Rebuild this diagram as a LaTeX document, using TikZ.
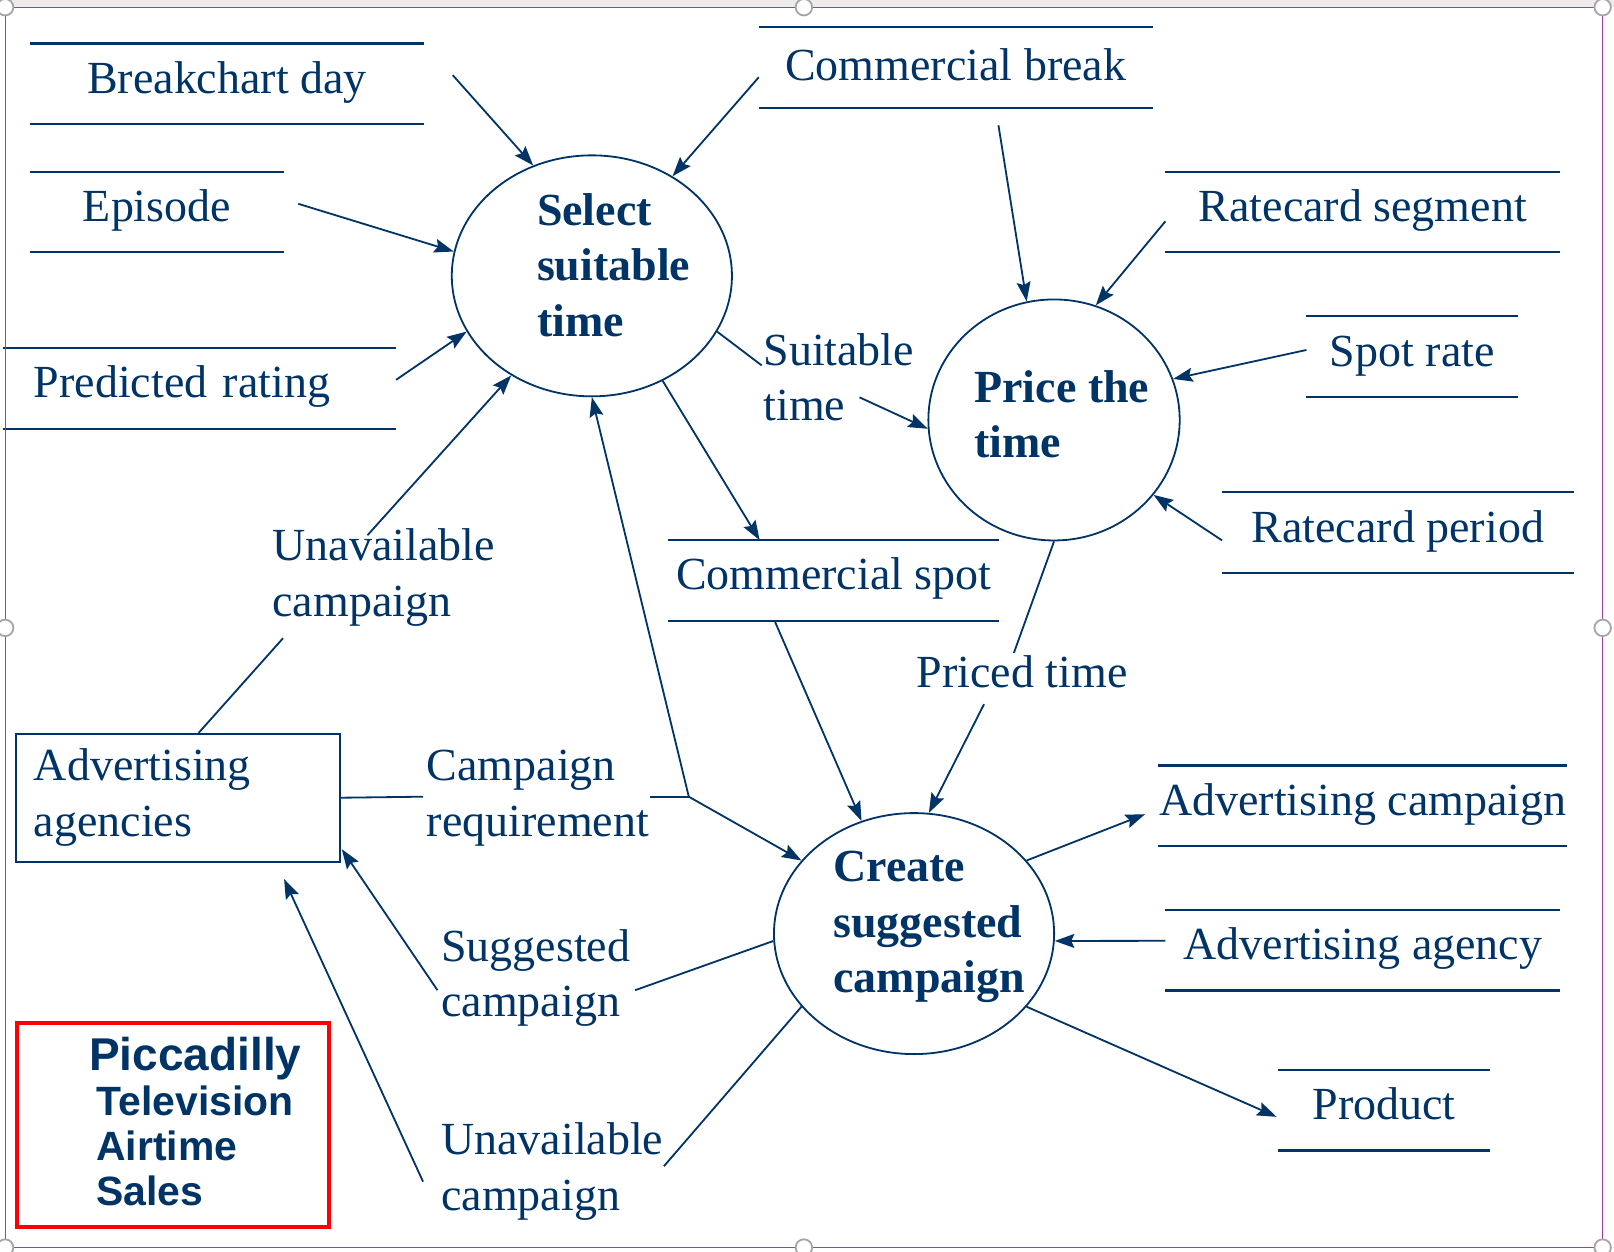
\documentclass[tikz,border=0pt]{standalone}
\usepackage{fontspec}
\setmainfont{Liberation Serif}
\setsansfont{Liberation Sans}
\usetikzlibrary{arrows.meta,calc,positioning,shapes.geometric}
\definecolor{navy}{RGB}{0,51,102}
\definecolor{selframe}{RGB}{160,60,170}
\newcommand{\dfdfont}{\fontsize{12.7}{15.4}\selectfont}
\tikzset{store/.style={inner sep=0pt,minimum height=0.77cm,text height=0.7em,text depth=0.18em},
  storeline/.style={navy,line width=0.6pt},
  proc/.style={draw=navy,ellipse,line width=0.5pt,minimum width=2.72cm,minimum height=2.34cm,inner sep=0pt},
  ptext/.style={font=\dfdfont\bfseries,align=left,inner sep=0pt,anchor=north west},
  lbl/.style={align=left,inner sep=0pt,anchor=north west},
  flow/.style={navy,line width=0.5pt},
  arr/.style={flow,-{Stealth[length=1.9mm,width=1.35mm,inset=0.3mm]}},
  handle/.style={draw=gray!70,fill=white,line width=0.5pt}}

\begin{document}
\begin{tikzpicture}[x=0.01cm,y=-0.01cm,font=\dfdfont,text=navy]
\useasboundingbox (0,0) rectangle (1568,1216);
\fill[gray!15] (0,0) rectangle (1568,7);
\fill[white] (5,7) rectangle (1557,1212);
% processes
\node[proc] (select) at (575,268) {};
\node[proc,minimum width=2.44cm] (price) at (1024,408) {};
\node[proc] (create) at (888,907) {};
\node[ptext] (select-t) at (521,187) {Select\\suitable\\time};
\node[ptext] (price-t) at (946,359) {Price the\\time};
\node[ptext] (create-t) at (809,826) {Create\\suggested\\campaign};
% data stores
\node[store,minimum width=3.81cm] (bday) at (220.5,81.5) {Breakchart day};
\node[store,minimum width=2.45cm] (episode) at (152.5,206) {Episode};
\node[store,minimum width=3.8cm,text width=3.22cm,align=left] (rating) at (194,377.5) {Predicted rating};
\node[store,minimum width=3.81cm,text depth=0em] (cbreak) at (928.5,65.5) {Commercial break};
\node[store,minimum width=3.82cm] (segment) at (1324,206) {Ratecard segment};
\node[store,minimum width=2.04cm] (spot) at (1372,346.5) {Spot rate};
\node[store,minimum width=3.4cm] (period) at (1358,517.5) {Ratecard period};
\node[store,minimum width=3.2cm] (cspot) at (810,564) {Commercial spot};
\node[store,minimum width=3.82cm] (adcampaign) at (1324,783) {Advertising campaign};
\node[store,minimum width=3.82cm] (adagency) at (1324,923) {Advertising agency};
\node[store,minimum width=2.05cm] (product) at (1344.5,1078.5) {Product};
\foreach \s in {bday,episode,rating,cbreak,segment,spot,period,cspot,adcampaign,adagency,product}
  \draw[storeline] (\s.north west) -- (\s.north east) (\s.south west) -- (\s.south east);
% external entity and title
\node[draw=navy,line width=0.55pt,minimum width=3.14cm,minimum height=1.24cm,text width=2.8cm,align=left,inner sep=0pt] (agencies) at (173,775) {Advertising\\agencies};
\node[draw=red,line width=1.15pt,minimum width=3.03cm,minimum height=1.98cm] (pitas) at (168,1093) {};
\node[font=\sffamily\bfseries\fontsize{11.3}{12.4}\selectfont,align=left,inner sep=0pt,anchor=north west] (pitas-t) at (93,1007)
  {\hspace*{-0.07cm}{\fontsize{12.7}{12.4}\selectfont Piccadilly}\\Television\\Airtime\\Sales};
% flow labels
\node[lbl] (suitable) at (741,323) {Suitable\\time};
\node[lbl] (unav-up) at (264,513) {Unavailable\\campaign};
\node[lbl] (require) at (414,728) {Campaign\\requirement};
\node[inner sep=0pt,anchor=base] (priced) at (993,668) {Priced time};
\node[lbl] (suggested) at (428,902) {Suggested\\campaign};
\node[lbl] (unav-low) at (428,1090) {Unavailable\\campaign};
% into select suitable time
\draw[arr] ([shift={(28,-8.5)}]bday.east) -- (select.118);
\draw[arr] ([shift={(0,9.5)}]cbreak.west) -- (select.51);
\draw[arr] ([shift={(14,-8)}]episode.east) -- (select.170);
\draw[arr] ([shift={(0,-8.5)}]rating.east) -- (select.204);
\draw[flow] ([shift={(20,0)}]agencies.north) -- ([shift={(11,107)}]unav-up.north west);
\draw[arr] ([shift={(93,7)}]unav-up.north west) -- (select.231);
% out of select suitable time
\draw[flow] (select.336) -- ([shift={(-1,32)}]suitable.north west);
\draw[arr] ([shift={(94,63)}]suitable.north west) -- (price.184);
\draw[arr] (select.304) -- ([shift={(-72,0)}]cspot.north);
% price the time
\draw[arr] ([shift={(41.5,17)}]cbreak.south) -- (price.103);
\draw[arr] ([shift={(0,9)}]segment.west) -- (price.70);
\draw[arr] ([shift={(0,-6.5)}]spot.west) -- (price.19.5);
\draw[arr] ([shift={(0,7.5)}]period.west) -- (price.323);
\draw[flow] (price.270) -- ([shift={(-8,-2)}]priced.north);
\draw[arr] ([shift={(-37,15)}]priced.south) -- (create.83);
% campaign requirement
\draw[flow] (agencies.east) -- ([shift={(-3,46)}]require.north west);
\coordinate (fork) at ([shift={(38,46)}]require.north east);
\draw[flow] ([shift={(0,46)}]require.north east) -- (fork);
\draw[arr] (fork) -- (select.270.5);
\draw[arr] (fork) -- (create.147);
% create suggested campaign
\draw[arr] ([shift={(-57,1)}]cspot.south) -- (create.115);
\draw[arr] (create.33) -- ([shift={(-13,8)}]adcampaign.west);
\draw[arr] ([shift={(0,-9)}]adagency.west) -- (create.357);
\draw[arr] (create.327) -- ([shift={(-1,6.5)}]product.west);
\draw[flow] (create.183) -- ([shift={(189,60)}]suggested.north west);
\draw[arr] ([shift={(-3,60)}]suggested.north west) -- ([shift={(1,-13)}]agencies.south east);
\draw[flow] (create.213) -- ([shift={(217,43)}]unav-low.north west);
\draw[arr] ([shift={(-17,58)}]unav-low.north west) -- ([shift={(103,16)}]agencies.south);
% selection frame
\draw[selframe,line width=0.35pt] (5,7) rectangle (1557,1212);
\foreach \hx/\hy in {5/7,781/7,1557/7,5/610,1557/610,5/1212,781/1212,1557/1212}
  \draw[handle] (\hx,\hy) circle (8);
\end{tikzpicture}
\end{document}
